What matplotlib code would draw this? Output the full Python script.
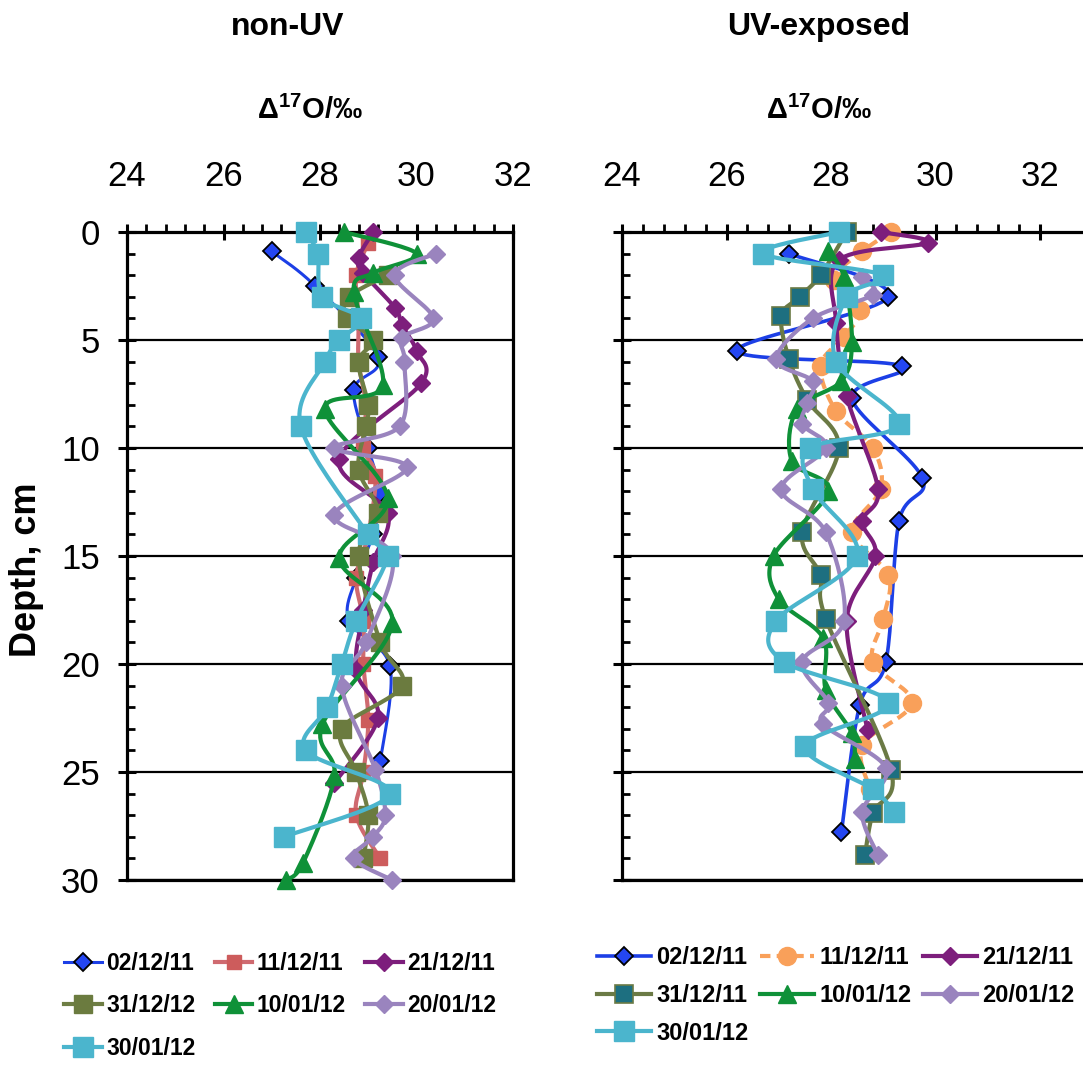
import numpy as np
import matplotlib
matplotlib.use('Agg')
import matplotlib.pyplot as plt
from matplotlib.ticker import FixedLocator
from matplotlib.lines import Line2D

# ---------------- data ----------------
# non-UV panel: depth (cm) and Delta17O (permil)
nu_0212_d = [0.9, 2.5, 5.8, 7.3, 10.0, 12.1, 14.0, 16.0, 18.0, 20.1, 24.5]
nu_0212_v = [27.0, 27.9, 29.2, 28.7, 29.0, 29.25, 29.1, 28.75, 28.6, 29.45, 29.25]
nu_1112_d = [0.5, 2.0, 4.0, 6.0, 8.0, 10.0, 11.3, 14.0, 16.0, 18.0, 20.0, 22.6, 25.0, 27.0, 29.0]
nu_1112_v = [29.0, 28.75, 28.8, 28.8, 28.95, 28.9, 29.15, 29.0, 28.75, 28.9, 28.9, 29.0, 28.9, 28.75, 29.25]
nu_2112_d = [0.0, 1.2, 1.9, 3.5, 4.3, 5.5, 7.0, 10.5, 13.0, 15.3, 17.5, 20.3, 22.5, 25.5]
nu_2112_v = [29.1, 28.8, 28.9, 29.55, 29.7, 30.0, 30.1, 28.4, 29.4, 29.1, 28.9, 28.75, 29.2, 28.3]
nu_3112_d = [2.0, 3.0, 4.0, 5.0, 6.0, 8.0, 9.0, 11.0, 13.0, 15.0, 19.0, 21.0, 23.0, 25.0, 27.0, 29.0]
nu_3112_v = [29.4, 28.6, 28.55, 29.1, 28.8, 29.0, 28.95, 28.8, 29.2, 28.8, 29.25, 29.7, 28.45, 28.75, 29.0, 28.9]
nu_1001_d = [0.0, 1.0, 1.9, 2.8, 7.1, 8.2, 12.3, 15.1, 18.1, 22.8, 25.2, 29.2, 30.0]
nu_1001_v = [28.5, 30.0, 29.1, 28.7, 29.3, 28.1, 29.4, 28.4, 29.5, 28.05, 28.3, 27.65, 27.3]
nu_2001_d = [1.0, 2.0, 4.0, 4.9, 6.0, 9.0, 10.0, 10.9, 13.1, 15.0, 19.0, 21.0, 24.9, 27.0, 28.0, 29.0, 30.0]
nu_2001_v = [30.4, 29.55, 30.35, 29.7, 29.75, 29.65, 28.3, 29.8, 28.3, 29.5, 28.95, 28.45, 29.15, 29.35, 29.1, 28.7, 29.5]
nu_3001_d = [0.0, 1.0, 3.0, 4.0, 5.0, 6.0, 9.0, 14.0, 15.0, 18.0, 20.0, 22.0, 24.0, 26.0, 28.0]
nu_3001_v = [27.7, 27.95, 28.05, 28.85, 28.4, 28.1, 27.6, 29.0, 29.4, 28.75, 28.45, 28.15, 27.7, 29.45, 27.25]

# UV-exposed panel
uv_0212_d = [1.0, 3.0, 5.5, 6.2, 7.7, 11.4, 13.4, 19.9, 21.9, 27.8]
uv_0212_v = [27.2, 29.1, 26.2, 29.35, 28.4, 29.75, 29.3, 29.05, 28.55, 28.2]
uv_1112_d = [0.0, 0.9, 2.2, 3.6, 4.85, 6.2, 8.3, 10.0, 11.9, 13.9, 15.9, 17.9, 19.9, 21.8, 23.75, 25.8]
uv_1112_v = [29.15, 28.6, 28.05, 28.55, 28.25, 27.8, 28.1, 28.8, 28.95, 28.4, 29.1, 29.0, 28.8, 29.55, 28.6, 28.75]
uv_2112_d = [0.0, 0.5, 1.3, 4.2, 7.6, 11.9, 13.4, 15.0, 18.0, 23.05]
uv_2112_v = [28.95, 29.85, 28.15, 28.1, 28.3, 28.9, 28.6, 28.85, 28.3, 28.7]
uv_3112_d = [0.0, 2.0, 3.0, 3.9, 5.9, 7.8, 10.0, 13.9, 15.9, 17.9, 24.9, 26.9, 28.85]
uv_3112_v = [28.3, 27.8, 27.4, 27.05, 27.2, 27.55, 28.15, 27.45, 27.8, 27.9, 29.15, 28.8, 28.65]
uv_1001_d = [0.9, 2.1, 5.1, 6.9, 8.2, 10.6, 12.0, 15.0, 17.0, 18.8, 21.2, 23.2, 24.4]
uv_1001_v = [27.95, 28.25, 28.4, 28.2, 27.35, 27.25, 27.95, 26.9, 27.0, 27.85, 27.9, 28.4, 28.45]
uv_2001_d = [2.1, 2.9, 4.0, 5.9, 6.9, 7.9, 8.9, 10.0, 11.9, 13.9, 18.0, 19.9, 21.8, 22.8, 24.8, 26.85, 28.85]
uv_2001_v = [28.6, 28.8, 27.65, 26.95, 27.65, 27.55, 27.45, 27.9, 27.05, 27.9, 28.25, 27.45, 27.95, 27.85, 29.05, 28.6, 28.9]
uv_3001_d = [0.0, 1.0, 2.0, 3.0, 6.0, 8.9, 10.0, 11.9, 15.0, 18.0, 19.9, 21.8, 23.8, 25.8, 26.85]
uv_3001_v = [28.15, 26.7, 29.0, 28.3, 28.1, 29.3, 27.6, 27.65, 28.5, 26.95, 27.1, 29.1, 27.5, 28.8, 29.2]

labels_nu = ['02/12/11', '11/12/11', '21/12/11', '31/12/12', '10/01/12', '20/01/12', '30/01/12']
labels_uv = ['02/12/11', '11/12/11', '21/12/11', '31/12/11', '10/01/12', '20/01/12', '30/01/12']
x_ticks = [24, 26, 28, 30, 32]
y_ticks = [0, 5, 10, 15, 20, 25, 30]

# ---------------- styling ----------------
W, H, DPI = 1083, 1067, 100
FONT = 'Liberation Sans'
plt.rcParams['font.family'] = [FONT, 'DejaVu Sans']
plt.rcParams['mathtext.fontset'] = 'custom'
plt.rcParams['mathtext.rm'] = FONT + ':bold'
plt.rcParams['mathtext.it'] = FONT + ':bold'
plt.rcParams['mathtext.bf'] = FONT + ':bold'

# style per series: (line color, line width, linestyle, marker, ms, face, edge, mew)
st_nu = [
    ('#1C3FE6', 2.2, '-', 'D', 9.0, '#2446F2', 'black', 1.3),
    ('#CF6A70', 3.0, '-', 's', 10.5, '#CD5C5C', '#CD5C5C', 1.0),
    ('#7D1E7C', 3.0, '-', 'D', 8.8, '#7D1E7C', '#7D1E7C', 1.0),
    ('#6E7E44', 3.0, '-', 's', 12.5, '#6B7B3F', '#6B7B3F', 1.0),
    ('#0F9138', 3.0, '-', '^', 13.0, '#0F9138', '#0F9138', 1.0),
    ('#9A84BE', 3.0, '-', 'D', 9.2, '#9A84BE', '#9A84BE', 1.0),
    ('#4BB5CD', 3.0, '-', 's', 14.0, '#4BB5CD', '#4BB5CD', 1.0),
]
st_uv = [
    ('#1C3FE6', 2.6, '-', 'D', 9.0, '#2446F2', 'black', 1.3),
    ('#F9A05A', 3.0, (0, (2.5, 1.5)), 'o', 13.0, '#F9A05A', '#F9A05A', 1.0),
    ('#7D1E7C', 3.0, '-', 'D', 8.8, '#7D1E7C', '#7D1E7C', 1.0),
    ('#6B7A45', 3.0, '-', 's', 12.5, '#1D6F80', '#6B7A45', 1.2),
    ('#0F9138', 3.0, '-', '^', 12.5, '#0F9138', '#0F9138', 1.0),
    ('#9A84BE', 3.0, '-', 'D', 9.2, '#9A84BE', '#9A84BE', 1.0),
    ('#4BB5CD', 3.0, '-', 's', 14.0, '#4BB5CD', '#4BB5CD', 1.0),
]

data_nu = [(nu_0212_v, nu_0212_d), (nu_1112_v, nu_1112_d), (nu_2112_v, nu_2112_d),
           (nu_3112_v, nu_3112_d), (nu_1001_v, nu_1001_d), (nu_2001_v, nu_2001_d),
           (nu_3001_v, nu_3001_d)]
data_uv = [(uv_0212_v, uv_0212_d), (uv_1112_v, uv_1112_d), (uv_2112_v, uv_2112_d),
           (uv_3112_v, uv_3112_d), (uv_1001_v, uv_1001_d), (uv_2001_v, uv_2001_d),
           (uv_3001_v, uv_3001_d)]


def fx(x):
    return x / W


def fy(y):
    return 1 - y / H


fig = plt.figure(figsize=(W / DPI, H / DPI), dpi=DPI)
top, bot = 232, 880
axL = fig.add_axes([fx(127), fy(bot), (513 - 127) / W, (bot - top) / H])
axR = fig.add_axes([fx(622), fy(bot), (W - 622) / W, (bot - top) / H])
axL.set_xlim(24, 32)
axR.set_xlim(24, 24 + (W - 622) / 52.25)

minor_x = [v for v in np.arange(24, 32.001, 0.4) if min(abs(v - t) for t in x_ticks) > 1e-6]
for ax in (axL, axR):
    ax.set_ylim(30, 0)
    ax.xaxis.tick_top()
    ax.set_xticks(x_ticks)
    ax.xaxis.set_minor_locator(FixedLocator(minor_x))
    ax.set_yticks(y_ticks)
    ax.yaxis.set_minor_locator(FixedLocator(list(range(0, 31))))
    ax.tick_params(axis='x', which='major', direction='inout', length=12, width=2.2,
                   pad=22, labelsize=25)
    ax.tick_params(axis='x', which='minor', direction='out', length=5.5, width=2.0)
    ax.tick_params(axis='y', which='major', direction='inout', length=13, width=2.2,
                   pad=13, labelsize=25)
    ax.tick_params(axis='y', which='minor', direction='in', length=6, width=2.0)
    ax.yaxis.grid(True, which='major', color='black', lw=1.6)
    ax.set_axisbelow(True)
    for s in ax.spines.values():
        s.set_linewidth(2.3)
axR.spines['right'].set_visible(False)
axR.tick_params(axis='y', which='both', labelleft=False)


def smooth(ax, xs, ys, n=20):
    pts = ax.transData.transform(np.column_stack([xs, ys]))
    if len(pts) < 3:
        return np.asarray(xs), np.asarray(ys)
    P = np.vstack([pts[0], pts, pts[-1]])
    t = np.linspace(0, 1, n, endpoint=False)[:, None]
    out = []
    for i in range(1, len(P) - 2):
        p0, p1, p2, p3 = P[i - 1], P[i], P[i + 1], P[i + 2]
        seg = 0.5 * (2 * p1 + (-p0 + p2) * t + (2 * p0 - 5 * p1 + 4 * p2 - p3) * t ** 2
                     + (-p0 + 3 * p1 - 3 * p2 + p3) * t ** 3)
        out.append(seg)
    out.append(pts[-1][None, :])
    inv = ax.transData.inverted().transform(np.vstack(out))
    return inv[:, 0], inv[:, 1]


def draw(ax, data, styles, labels):
    handles = []
    for i, ((v, d), (lc, lw, ls, m, ms, fc, ec, mew), lab) in enumerate(zip(data, styles, labels)):
        sx, sy = smooth(ax, v, d)
        ax.plot(sx, sy, color=lc, lw=lw, ls=ls, zorder=3 + i, clip_on=False,
                solid_capstyle='round', dash_capstyle='butt')
        ax.plot(v, d, ls='none', marker=m, ms=ms, mfc=fc, mec=ec, mew=mew,
                zorder=3.5 + i, clip_on=False)
        handles.append(Line2D([], [], color=lc, lw=lw, ls=ls, marker=m, ms=ms,
                              mfc=fc, mec=ec, mew=mew, label=lab))
    return handles


hL = draw(axL, data_nu, st_nu, labels_nu)
hR = draw(axR, data_uv, st_uv, labels_uv)

order = [0, 3, 6, 1, 4, 2, 5]
legL = fig.legend([hL[i] for i in order], [labels_nu[i] for i in order], ncol=3,
                  loc='upper left', bbox_to_anchor=(fx(64), fy(952)), frameon=False,
                  borderpad=0, borderaxespad=0, handlelength=1.65, handletextpad=0.18,
                  columnspacing=0.85, labelspacing=0.85, numpoints=1,
                  prop={'family': FONT, 'weight': 'bold', 'size': 16.5})
legR = fig.legend([hR[i] for i in order], [labels_uv[i] for i in order], ncol=3,
                  loc='upper left', bbox_to_anchor=(fx(597), fy(946)), frameon=False,
                  borderpad=0, borderaxespad=0, handlelength=2.3, handletextpad=0.2,
                  columnspacing=0.5, labelspacing=0.63, numpoints=1,
                  prop={'family': FONT, 'weight': 'bold', 'size': 17})

# titles and axis labels
fig.text(fx(288), fy(27), 'non-UV', ha='center', va='center', fontsize=23,
         fontweight='bold', family=FONT)
fig.text(fx(819), fy(27), 'UV-exposed', ha='center', va='center', fontsize=23,
         fontweight='bold', family=FONT)
xl = 'Δ$^{17}$O/‰'
fig.text(fx(310), fy(110), xl, ha='center', va='center', fontsize=21,
         fontweight='bold', family=FONT)
fig.text(fx(819), fy(110), xl, ha='center', va='center', fontsize=21,
         fontweight='bold', family=FONT)
fig.text(fx(27), fy(570), 'Depth, cm', ha='center', va='center', rotation=90,
         fontsize=26, fontweight='bold', family=FONT)

fig.savefig('out.png', dpi=DPI)
